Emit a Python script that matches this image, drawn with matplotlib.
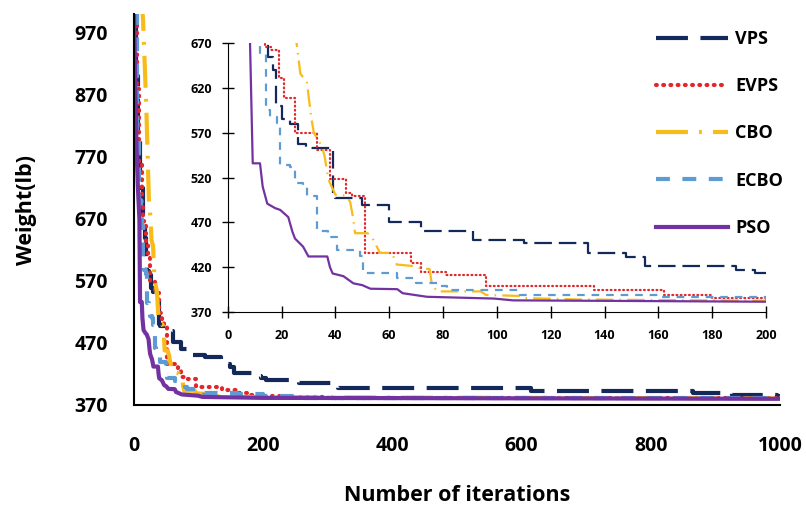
import matplotlib
matplotlib.use("Agg")
import matplotlib.pyplot as plt

plt.rcParams['font.family'] = ['Open Sans', 'DejaVu Sans']
plt.rcParams['font.weight'] = 'bold'
plt.rcParams['lines.scale_dashes'] = False

# convergence histories (iteration, weight in lb)
vps_iter = [0, 3, 6, 10, 14, 15, 17, 18, 20, 23, 26, 29, 38, 39, 40, 50, 60, 72, 91, 110, 134, 148,
            155, 189, 196, 205, 255, 315, 615, 865, 925, 995, 1000]
vps_weight = [1000, 900, 800, 720, 670, 655, 640, 600, 586, 580, 558, 553, 553, 501, 497, 490, 471, 460,
              450, 447, 436, 431, 421, 417, 413, 410, 406, 398, 392.5, 389, 386, 384, 384]

evps_iter = [0, 4, 8, 12, 14, 16, 19, 21, 25, 33, 38, 44, 46, 51, 68, 72, 81, 96, 136, 162, 180, 200,
             230, 300, 1000]
evps_weight = [1000, 880, 760, 690, 666, 662, 631, 609, 570, 551, 518, 503, 499, 436, 425, 415, 411.5,
               399, 394.5, 389, 386, 385, 383, 381.5, 381]

cbo_iter = [0, 12, 14, 19, 23, 25.6, 27, 29.4, 31, 32, 35, 36, 37.4, 40, 44, 45.5, 46.7, 47.3, 52, 54,
            56.6, 61, 62.8, 70, 71.5, 75, 75.8, 77.7, 94, 96, 108, 110, 130, 200, 1000]
cbo_weight = [1100, 1020, 990, 850, 700, 670, 636, 627, 588, 570, 555, 544, 518, 501, 500, 493, 473, 458,
              458, 451, 436, 436, 423, 421, 419, 418, 402, 393, 393, 389, 388, 385.6, 384, 382.5, 380.5]

ecbo_iter = [0, 5, 8, 11.4, 12, 14, 14.3, 15, 15.7, 18.2, 19.5, 23.2, 25, 28, 29.4, 33, 34.3, 37.4, 40.5,
             46.7, 49, 50.4, 61.6, 62.8, 69, 70, 79, 81.4, 106, 108.7, 160, 200, 260, 1000]
ecbo_weight = [1000, 800, 700, 670, 659, 659, 600, 596, 588, 581, 534, 532, 514, 510, 499, 462, 460, 454,
               439.5, 439, 432, 413.5, 413, 408, 408, 402, 399, 395, 395, 389, 387, 384, 382, 380.5]

pso_iter = [0, 2, 4, 6, 8.3, 9.3, 12, 13, 14.7, 17.6, 19.5, 22.5, 24, 25, 28, 30, 37, 38, 39, 43, 46.7,
            50, 53, 63, 65, 74, 99, 106, 200, 1000]
pso_weight = [1000, 880, 780, 720, 670, 536, 536, 510, 491, 486, 484, 476, 460, 452, 443, 432, 432, 420,
              413, 410, 402, 400, 396, 395.5, 391, 387, 385, 383, 381.5, 380]

names = ["VPS", "EVPS", "CBO", "ECBO", "PSO"]
colors = ["#13295A", "#E3262A", "#F7BC1A", "#5E9BD3", "#7332A1"]
styles = [(0, (23, 9)), (0, (0.6, 4.6)), (0, (23, 8, 2, 8)), (0, (10, 9)), "-"]
draw = ["steps-post", "steps-post", "default", "steps-post", "default"]
series = [(vps_iter, vps_weight), (evps_iter, evps_weight), (cbo_iter, cbo_weight),
          (ecbo_iter, ecbo_weight), (pso_iter, pso_weight)]

fig = plt.figure(figsize=(8.06, 5.07), dpi=100)
ax = fig.add_axes([0.1663, 0.2012, 0.8015, 0.7704])
for (xs, ys), name, c, ls, ds in zip(series, names, colors, styles, draw):
    ax.plot(xs, ys, color=c, linestyle=ls, linewidth=3, label=name, drawstyle=ds,
            dash_capstyle="round" if name == "EVPS" else "butt")
ax.set_xlim(0, 1000)
ax.set_ylim(370, 1000)
ax.set_xticks([0, 200, 400, 600, 800, 1000])
ax.set_yticks([370, 470, 570, 670, 770, 870, 970])
for s in ["top", "right"]:
    ax.spines[s].set_visible(False)
for s in ["left", "bottom"]:
    ax.spines[s].set_linewidth(1.5)
ax.tick_params(axis="both", length=0, labelsize=14)
ax.tick_params(axis="y", pad=19)
ax.tick_params(axis="x", pad=22)
ax.set_xlabel("Number of iterations", fontsize=15.5, fontweight="bold")
ax.set_ylabel("Weight(lb)", fontsize=15.5, fontweight="bold")
ax.xaxis.set_label_coords(0.5, -0.205)
ax.yaxis.set_label_coords(-0.150, 0.5)

# zoomed view of the first 200 iterations
ins = fig.add_axes([0.2825, 0.3846, 0.6679, 0.5300])
ins.patch.set_alpha(0)
for (xs, ys), name, c, ls, ds in zip(series, names, colors, styles, draw):
    if ls != "-" and name != "EVPS":
        ls = (0, tuple(v * 0.55 for v in ls[1]))
    elif name == "EVPS":
        ls = (0, (0.6, 2.4))
    ins.plot(xs, ys, color=c, linestyle=ls, linewidth=1.6, drawstyle=ds,
             dash_capstyle="round" if name == "EVPS" else "butt")
ins.set_xlim(0, 200)
ins.set_ylim(370, 670)
ins.set_xticks(range(0, 201, 20))
ins.set_yticks([370, 420, 470, 520, 570, 620, 670])
for s in ["top", "right"]:
    ins.spines[s].set_visible(False)
ins.tick_params(axis="both", direction="inout", length=8, width=1, labelsize=9)
ins.tick_params(axis="y", pad=7)
ins.tick_params(axis="x", pad=8)

fig.legend(loc="upper left", bbox_to_anchor=(656 / 806, 1 - 30 / 507), frameon=False,
           fontsize=13, handlelength=4, handletextpad=0.4, labelspacing=1.62,
           borderpad=0, borderaxespad=0)

fig.savefig("out.png", dpi=100)
